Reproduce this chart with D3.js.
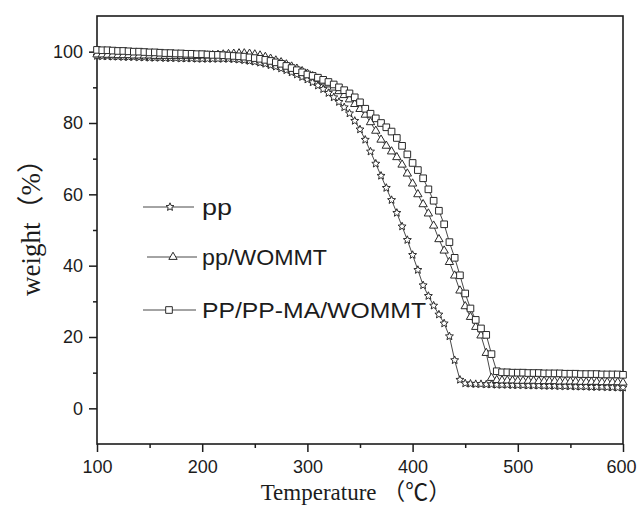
<!DOCTYPE html>
<html>
<head>
<meta charset="utf-8">
<script src="https://cdn.jsdelivr.net/npm/d3@7/dist/d3.min.js"></script>
<style>
  body { margin: 0; background: #fff; }
  svg { display: block; }
</style>
</head>
<body>
<svg id="chart" width="637" height="507"></svg>
<script>
// Thermogravimetric curves: residual weight (%) vs temperature (°C), sampled every 5 °C
const temperatures = d3.range(100, 601, 5);

const weightPP = [
  98.8, 98.7, 98.7, 98.6, 98.6, 98.5, 98.5, 98.5, 98.4, 98.4,
  98.3, 98.3, 98.3, 98.2, 98.2, 98.2, 98.1, 98.1, 98.1, 98.0,
  98.0, 98.0, 98.0, 98.0, 98.0, 98.0, 97.9, 97.8, 97.6, 97.4,
  97.2, 96.9, 96.6, 96.2, 95.8, 95.3, 94.8, 94.2, 93.6, 92.9,
  92.2, 91.4, 90.5, 89.5, 88.4, 87.2, 85.9, 84.4, 82.7, 80.6,
  78.2, 75.3, 72.0, 68.6, 65.2, 61.8, 58.4, 54.8, 51.0, 47.2,
  43.0, 38.8, 34.5, 31.5, 28.8, 26.3, 23.8, 20.2, 13.5, 8.0,
  7.0, 6.9, 6.8, 6.8, 6.7, 6.7, 6.6, 6.6, 6.6, 6.5,
  6.5, 6.5, 6.4, 6.4, 6.4, 6.3, 6.3, 6.3, 6.2, 6.2,
  6.2, 6.1, 6.1, 6.1, 6.0, 6.0, 6.0, 5.9, 5.9, 5.8,
  5.8
];

const weightPPWOMMT = [
  99.2, 99.2, 99.1, 99.1, 99.0, 99.0, 99.0, 98.9, 98.9, 98.9,
  98.9, 98.8, 98.8, 98.8, 98.8, 98.8, 98.8, 98.8, 98.8, 98.8,
  98.9, 98.9, 99.0, 99.1, 99.2, 99.3, 99.4, 99.5, 99.5, 99.4,
  99.2, 98.9, 98.5, 98.0, 97.5, 97.0, 96.4, 95.8, 95.2, 94.5,
  93.8, 93.1, 92.4, 91.6, 90.8, 89.9, 88.9, 87.8, 86.6, 85.3,
  83.9, 82.3, 80.2, 77.8, 75.3, 73.6, 72.0, 70.4, 68.3, 65.8,
  63.0, 60.0, 57.2, 54.6, 51.2, 47.4, 44.2, 41.0, 37.2, 33.0,
  28.6, 25.6, 22.8, 20.4, 15.5, 8.5, 7.9, 7.8, 7.8, 7.8,
  7.7, 7.7, 7.7, 7.7, 7.6, 7.6, 7.6, 7.6, 7.5, 7.5,
  7.5, 7.5, 7.4, 7.4, 7.4, 7.4, 7.3, 7.3, 7.3, 7.3,
  7.2
];

const weightPPMAWOMMT = [
  100.5, 100.4, 100.4, 100.3, 100.2, 100.2, 100.1, 100.0, 100.0, 99.9,
  99.8, 99.8, 99.7, 99.6, 99.6, 99.5, 99.5, 99.4, 99.4, 99.3,
  99.3, 99.2, 99.1, 99.1, 99.0, 98.9, 98.8, 98.7, 98.6, 98.4,
  98.2, 98.0, 97.7, 97.4, 97.0, 96.6, 96.0, 95.4, 94.8, 94.2,
  93.6, 93.2, 92.7, 92.1, 91.5, 90.8, 90.0, 89.2, 88.3, 87.2,
  85.8, 84.0, 82.6, 81.3, 80.0, 78.8, 77.6, 75.8, 73.6, 71.2,
  68.8, 66.8, 64.5, 61.4, 58.2, 55.4, 51.6, 46.6, 42.2, 37.3,
  32.2, 28.0, 24.8, 22.4, 20.6, 15.2, 10.4, 10.1, 10.1, 10.0,
  10.0, 10.0, 9.9, 9.9, 9.9, 9.8, 9.8, 9.8, 9.8, 9.7,
  9.7, 9.7, 9.6, 9.6, 9.6, 9.6, 9.5, 9.5, 9.5, 9.5,
  9.4
];

const seriesNames = ["pp", "pp/WOMMT", "PP/PP-MA/WOMMT"];
const seriesMarkers = ["star", "triangle", "square"];

const xMajorTicks = [100, 200, 300, 400, 500, 600];
const xMinorTicks = [150, 250, 350, 450, 550];
const yMajorTicks = [0, 20, 40, 60, 80, 100];
const yMinorTicks = [10, 30, 50, 70, 90];

const xTitle = "Temperature （℃）";
const yTitle = "weight（%）";

// ---- layout ----
const svg = d3.select("#chart");
const plot = { left: 97, right: 623, top: 16, bottom: 444 };

const x = d3.scaleLinear().domain([100, 600]).range([plot.left, plot.right]);
const y = d3.scaleLinear().domain([-10, 110]).range([plot.bottom, plot.top]);

const ink = "#1c1c1c";
const tickFont = "'Liberation Sans', Arial, sans-serif";
const serifFont = "'Liberation Serif', 'Times New Roman', 'Noto Sans CJK SC', serif";

// marker shapes
function starPath(rOuter, rInner) {
  const pts = [];
  for (let i = 0; i < 10; i++) {
    const r = i % 2 === 0 ? rOuter : rInner;
    const a = -Math.PI / 2 + i * Math.PI / 5;
    pts.push([r * Math.cos(a), r * Math.sin(a)]);
  }
  return "M" + pts.map(p => p[0].toFixed(2) + "," + p[1].toFixed(2)).join("L") + "Z";
}
const markerPath = {
  star: starPath(4.2, 1.9),
  triangle: d3.symbol(d3.symbolTriangle, 30)(),
  square: d3.symbol(d3.symbolSquare, 44)()
};

// ---- axes ----
const gxMajor = svg.append("g").attr("transform", `translate(0,${plot.bottom})`)
  .call(d3.axisBottom(x).tickValues(xMajorTicks).tickSize(8).tickPadding(8).tickFormat(d3.format("d")));
svg.append("g").attr("transform", `translate(0,${plot.bottom})`)
  .call(d3.axisBottom(x).tickValues(xMinorTicks).tickSize(4).tickFormat(""));

svg.append("g").attr("transform", `translate(${plot.left},0)`)
  .call(d3.axisLeft(y).tickValues(yMajorTicks).tickSize(8).tickPadding(6).tickFormat(d3.format("d")));
svg.append("g").attr("transform", `translate(${plot.left},0)`)
  .call(d3.axisLeft(y).tickValues(yMinorTicks).tickSize(4).tickFormat(""));

svg.selectAll(".domain").remove();
svg.selectAll(".tick line").attr("stroke", ink).attr("stroke-width", 1.5);
svg.selectAll(".tick text")
  .attr("fill", ink)
  .style("font-family", tickFont)
  .style("font-size", "18px");

// the last x label sits against the right edge of the canvas
gxMajor.selectAll(".tick text").filter(d => d === 600).attr("dx", -2);

// frame
svg.append("rect")
  .attr("x", plot.left).attr("y", plot.top)
  .attr("width", plot.right - plot.left).attr("height", plot.bottom - plot.top)
  .attr("fill", "none").attr("stroke", ink).attr("stroke-width", 1.6);

// ---- series ----
const allSeries = [weightPP, weightPPWOMMT, weightPPMAWOMMT];
const line = d3.line().x(d => x(d.t)).y(d => y(d.w));

allSeries.forEach((values, i) => {
  const pts = temperatures.map((t, j) => ({ t, w: values[j] }));
  const g = svg.append("g").attr("class", "series");
  g.append("path")
    .attr("d", line(pts))
    .attr("fill", "none")
    .attr("stroke", "#333")
    .attr("stroke-width", 0.9);
  g.selectAll("path.mk")
    .data(pts)
    .join("path")
    .attr("class", "mk")
    .attr("d", markerPath[seriesMarkers[i]])
    .attr("transform", d => `translate(${x(d.t)},${y(d.w)})`)
    .attr("fill", "#fff")
    .attr("stroke", "#2a2a2a")
    .attr("stroke-width", 1);
});

// ---- legend ----
const legendRows = [
  { lineX: [143, 194], markX: 170, y: 207, textLen: 30 },
  { lineX: [147, 197], markX: 173, y: 257, textLen: 125 },
  { lineX: [143, 196], markX: 169, y: 310, textLen: 224 }
];
legendRows.forEach((row, i) => {
  const g = svg.append("g");
  g.append("line")
    .attr("x1", row.lineX[0]).attr("x2", row.lineX[1])
    .attr("y1", row.y).attr("y2", row.y)
    .attr("stroke", "#333").attr("stroke-width", 0.9);
  g.append("path")
    .attr("d", markerPath[seriesMarkers[i]])
    .attr("transform", `translate(${row.markX},${row.y})`)
    .attr("fill", "#fff").attr("stroke", "#2a2a2a").attr("stroke-width", 1);
  g.append("text")
    .attr("x", 202).attr("y", row.y + 8)
    .attr("fill", ink)
    .attr("textLength", row.textLen)
    .attr("lengthAdjust", "spacingAndGlyphs")
    .style("font-family", tickFont)
    .style("font-size", "22px")
    .text(seriesNames[i]);
});

// ---- axis titles ----
svg.append("text")
  .attr("x", 356).attr("y", 500)
  .attr("text-anchor", "middle")
  .attr("fill", ink)
  .style("font-family", serifFont)
  .style("font-size", "23px")
  .text(xTitle);

svg.append("text")
  .attr("transform", "translate(40,221) rotate(-90)")
  .attr("text-anchor", "middle")
  .attr("fill", ink)
  .style("font-family", serifFont)
  .style("font-size", "27px")
  .text(yTitle);
</script>
</body>
</html>
